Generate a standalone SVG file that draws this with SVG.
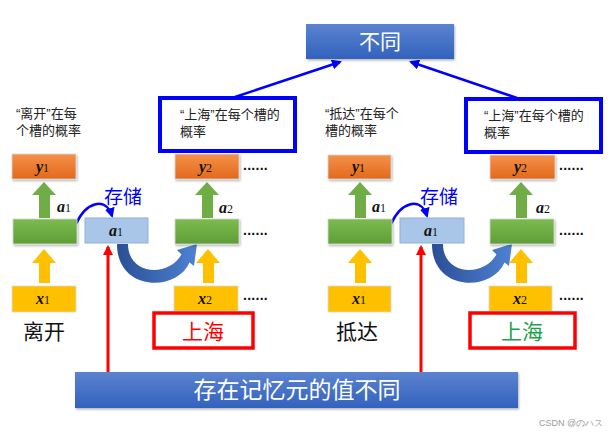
<svg xmlns="http://www.w3.org/2000/svg" width="615" height="435" viewBox="0 0 615 435">
<style>
.desc{font-family:"Liberation Sans","Noto Sans CJK SC",sans-serif;font-size:13px;fill:#222}
.big{font-family:"Noto Sans CJK SC",sans-serif;font-size:21px;fill:#111}
.wt{font-family:"Noto Sans CJK SC",sans-serif;fill:#fff}
.math{font-family:"Liberation Serif",serif;font-size:16px;fill:#111}
.mv{font-weight:bold;font-style:italic}
.sub{font-size:12px}
.dots{font-family:"Liberation Sans",sans-serif;font-size:14px;font-weight:bold;fill:#111;letter-spacing:-0.5px}
.orange{fill:url(#gO);stroke:#d9d9d9;stroke-width:0.8}
.green{fill:url(#gG);stroke:#d9d9d9;stroke-width:0.8}
.yellow{fill:#ffc000;stroke:#d9d9d9;stroke-width:0.8}
.lblue{fill:#a9c5e8;stroke:#8fb2de;stroke-width:1}
.bblue{fill:url(#gB)}
.outl{fill:#fff;stroke:#0000ff;stroke-width:4}
.redb{fill:#fff;stroke:#ff0000;stroke-width:3.5}
.garr{fill:#70ad47}
.yarr{fill:#ffc000}
.blue-line{fill:none;stroke:#0000ff;stroke-width:2.5}
.red-line{fill:none;stroke:#ff0000;stroke-width:3}
.cres{fill:url(#gC)}
</style>
<defs>
<linearGradient id="gO" x1="0" y1="0" x2="0" y2="1"><stop offset="0" stop-color="#f4914a"/><stop offset="1" stop-color="#e2691c"/></linearGradient>
<linearGradient id="gG" x1="0" y1="0" x2="0" y2="1"><stop offset="0" stop-color="#7cbb4f"/><stop offset="1" stop-color="#5f9e38"/></linearGradient>
<linearGradient id="gB" x1="0" y1="0" x2="0" y2="1"><stop offset="0" stop-color="#5b83cf"/><stop offset="1" stop-color="#3262bd"/></linearGradient>
<linearGradient id="gC" x1="0" y1="0" x2="1" y2="0"><stop offset="0" stop-color="#2a4f95"/><stop offset="1" stop-color="#4d82d2"/></linearGradient>
<filter id="sh" x="-10%" y="-10%" width="130%" height="140%"><feDropShadow dx="1" dy="1.5" stdDeviation="1" flood-color="#000" flood-opacity="0.3"/></filter>
<marker id="mB" viewBox="0 0 10 10" refX="8" refY="5" markerWidth="4" markerHeight="4" orient="auto"><path d="M0,0 L10,5 L0,10 Z" fill="#0000ff"/></marker>
<marker id="mR" viewBox="0 0 10 10" refX="8" refY="5" markerWidth="3.5" markerHeight="3.5" orient="auto"><path d="M0,0 L10,5 L0,10 Z" fill="#ff0000"/></marker>
</defs>

<g id="connectors">
  <line class="blue-line" x1="235" y1="97" x2="340" y2="62" marker-end="url(#mB)"/>
  <line class="blue-line" x1="517" y1="98" x2="411" y2="62" marker-end="url(#mB)"/>
  <path class="blue-line" d="M76,224 C86,202 106,196 112,216" marker-end="url(#mB)"/>
  <path class="blue-line" d="M391,224 C401,202 421,196 427,216" marker-end="url(#mB)"/>
  <line class="red-line" x1="108" y1="372" x2="108" y2="247" marker-end="url(#mR)"/>
  <line class="red-line" x1="421" y1="372" x2="421" y2="247" marker-end="url(#mR)"/>
  <path class="cres" d="M117,244 C117,292 177,292 189.5,262.5 L194,266 L197,244 L177,250 L181.5,254.5 C168,278 128,275 128,244 Z"/>
  <path class="cres" d="M432,244 C432,292 492,292 504.5,262.5 L509,266 L512,244 L492,250 L496.5,254.5 C483,278 443,275 443,244 Z"/>
  <path class="garr" d="M44,182 L56,195 L50,195 L50,218 L39,218 L39,195 L32,195 Z"/>
  <path class="garr" d="M207,182 L219,195 L213,195 L213,218 L202,218 L202,195 L195,195 Z"/>
  <path class="garr" d="M360,182 L372,195 L366,195 L366,218 L355,218 L355,195 L348,195 Z"/>
  <path class="garr" d="M521,182 L533,195 L527,195 L527,218 L516,218 L516,195 L509,195 Z"/>
  <path class="yarr" d="M44,249 L56,263 L50,263 L50,283 L39,283 L39,263 L32,263 Z"/>
  <path class="yarr" d="M208,249 L220,263 L214,263 L214,283 L203,283 L203,263 L196,263 Z"/>
  <path class="yarr" d="M360,249 L372,263 L366,263 L366,283 L355,283 L355,263 L348,263 Z"/>
  <path class="yarr" d="M521,249 L533,263 L527,263 L527,283 L516,283 L516,263 L509,263 Z"/>
</g>

<g id="diff-top">
  <rect class="bblue" x="306" y="24" width="148" height="35" filter="url(#sh)"/>
  <text class="wt" x="380" y="49" font-size="21" text-anchor="middle">不同</text>
</g>

<g id="desc-leave">
  <text class="desc" x="16" y="118">“离开”在每</text>
  <text class="desc" x="16" y="135">个槽的概率</text>
</g>
<g id="desc-sh1">
  <rect class="outl" x="160" y="98" width="135" height="53"/>
  <text class="desc" x="180" y="119">“上海”在每个槽的</text>
  <text class="desc" x="180" y="136">概率</text>
</g>
<g id="desc-arrive">
  <text class="desc" x="325" y="118">“抵达”在每个</text>
  <text class="desc" x="325" y="135">槽的概率</text>
</g>
<g id="desc-sh2">
  <rect class="outl" x="466" y="99" width="135" height="53"/>
  <text class="desc" x="484" y="120">“上海”在每个槽的</text>
  <text class="desc" x="484" y="137">概率</text>
</g>

<g id="y1-left">
  <rect class="orange" x="12" y="154" width="64" height="25" filter="url(#sh)"/>
  <text class="math" x="36" y="172"><tspan class="mv">y</tspan><tspan class="sub">1</tspan></text>
</g>
<g id="y2-left">
  <rect class="orange" x="175" y="154" width="64" height="25" filter="url(#sh)"/>
  <text class="math" x="199" y="172"><tspan class="mv">y</tspan><tspan class="sub">2</tspan></text>
  <text class="dots" x="243" y="174">······</text>
</g>
<g id="y1-right">
  <rect class="orange" x="328" y="155" width="63" height="24" filter="url(#sh)"/>
  <text class="math" x="352" y="172"><tspan class="mv">y</tspan><tspan class="sub">1</tspan></text>
</g>
<g id="y2-right">
  <rect class="orange" x="490" y="155" width="65" height="24" filter="url(#sh)"/>
  <text class="math" x="514" y="172"><tspan class="mv">y</tspan><tspan class="sub">2</tspan></text>
  <text class="dots" x="559" y="174">······</text>
</g>

<g id="labels-a">
  <text class="math" x="57" y="212"><tspan class="mv">a</tspan><tspan class="sub">1</tspan></text>
  <text class="math" x="219" y="213"><tspan class="mv">a</tspan><tspan class="sub">2</tspan></text>
  <text class="math" x="372" y="212"><tspan class="mv">a</tspan><tspan class="sub">1</tspan></text>
  <text class="math" x="536" y="213"><tspan class="mv">a</tspan><tspan class="sub">2</tspan></text>
</g>
<g id="store-left"><text class="big" x="104" y="204" style="fill:#0000ff;font-size:19px">存储</text></g>
<g id="store-right"><text class="big" x="420" y="204" style="fill:#0000ff;font-size:19px">存储</text></g>

<g id="h1-left"><rect class="green" x="13" y="219" width="64" height="25" filter="url(#sh)"/></g>
<g id="mem-left">
  <rect class="lblue" x="85" y="218" width="63" height="25"/>
  <text class="math" x="109" y="236"><tspan class="mv">a</tspan><tspan class="sub">1</tspan></text>
</g>
<g id="h2-left">
  <rect class="green" x="175" y="219" width="64" height="25" filter="url(#sh)"/>
  <text class="dots" x="243" y="239">······</text>
</g>
<g id="h1-right"><rect class="green" x="328" y="219" width="64" height="25" filter="url(#sh)"/></g>
<g id="mem-right">
  <rect class="lblue" x="400" y="218" width="64" height="25"/>
  <text class="math" x="424" y="236"><tspan class="mv">a</tspan><tspan class="sub">1</tspan></text>
</g>
<g id="h2-right">
  <rect class="green" x="490" y="219" width="64" height="25" filter="url(#sh)"/>
  <text class="dots" x="559" y="239">······</text>
</g>

<g id="x1-left">
  <rect class="yellow" x="12" y="286" width="64" height="26"/>
  <text class="math" x="36" y="304"><tspan class="mv">x</tspan><tspan class="sub">1</tspan></text>
</g>
<g id="x2-left">
  <rect class="yellow" x="174" y="286" width="64" height="25"/>
  <text class="math" x="198" y="304"><tspan class="mv">x</tspan><tspan class="sub">2</tspan></text>
  <text class="dots" x="243" y="304">······</text>
</g>
<g id="x1-right">
  <rect class="yellow" x="328" y="286" width="63" height="26"/>
  <text class="math" x="352" y="304"><tspan class="mv">x</tspan><tspan class="sub">1</tspan></text>
</g>
<g id="x2-right">
  <rect class="yellow" x="489" y="286" width="63" height="25"/>
  <text class="math" x="513" y="304"><tspan class="mv">x</tspan><tspan class="sub">2</tspan></text>
  <text class="dots" x="559" y="304">······</text>
</g>

<g id="word-leave"><text class="big" x="23" y="339">离开</text></g>
<g id="word-sh1">
  <rect class="redb" x="154" y="313" width="99" height="35"/>
  <text class="big" x="203" y="339" text-anchor="middle" style="fill:#ff0000">上海</text>
</g>
<g id="word-arrive"><text class="big" x="336" y="339">抵达</text></g>
<g id="word-sh2">
  <rect class="redb" x="470" y="313" width="105" height="35"/>
  <text class="big" x="522" y="339" text-anchor="middle" style="fill:#1aa34a">上海</text>
</g>

<g id="diff-bottom">
  <rect class="bblue" x="75" y="372" width="443" height="36" filter="url(#sh)"/>
  <text class="wt" x="297" y="398" font-size="23" text-anchor="middle">存在记忆元的值不同</text>
</g>

<text x="539" y="426" font-family="Liberation Sans,sans-serif" font-size="9" fill="#999">CSDN @のハス</text>
</svg>
